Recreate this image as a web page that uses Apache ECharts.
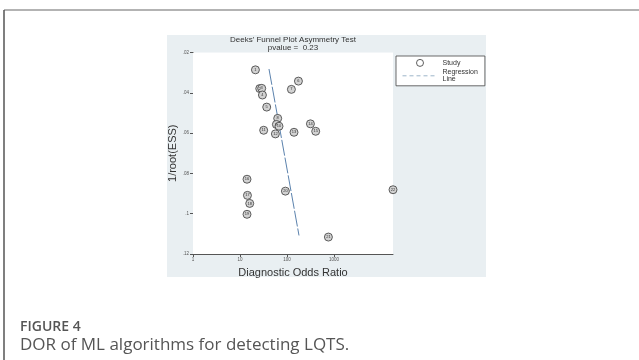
<!DOCTYPE html>
<html>
<head>
<meta charset="utf-8">
<script src="https://cdn.jsdelivr.net/npm/echarts@6/dist/echarts.min.js"></script>
<style>
  html, body { margin: 0; padding: 0; background: #fff; }
  #main { width: 639px; height: 360px; }
</style>
</head>
<body>
<div id="main"></div>
<script>
// study points
const studyIds = [1, 2, 3, 4, 5, 6, 7, 8, 9, 10, 11, 12, 13, 14, 15, 16, 17, 18, 19, 20, 21, 22];
const dorValues = [21.3, 26.3, 29.0, 30.0, 37.0, 175, 124, 63.4, 59.5, 67.6, 31.9, 56.6, 141, 315, 408, 14.1, 14.4, 16.1, 14.1, 92.5, 760, 18000];
const essValues = [0.0286, 0.0379, 0.0378, 0.0411, 0.0471, 0.0342, 0.0383, 0.0527, 0.0557, 0.0566, 0.0586, 0.0604, 0.0596, 0.0554, 0.0591, 0.0829, 0.0909, 0.0949, 0.1003, 0.0888, 0.1116, 0.0881];

// regression line end points
const regDor = [41.4, 180];
const regEss = [0.0282, 0.1108];

const xTicks = [1, 10, 100, 1000];
const pValue = "0.23";

const chart = echarts.init(document.getElementById("main"), null, { renderer: "canvas" });

const fmtY = v => String(+v.toFixed(2)).replace(/^0/, "");

const option = {
  animation: false,
  title: {
    text: "Deeks' Funnel Plot Asymmetry Test",
    subtext: "pvalue =  " + pValue,
    left: 293,
    top: 36,
    textAlign: "center",
    itemGap: 0,
    padding: 0,
    textStyle: { fontFamily: "Liberation Sans", fontSize: 8, fontWeight: "normal", color: "#333" },
    subtextStyle: { fontFamily: "Liberation Sans", fontSize: 8, color: "#333" }
  },
  legend: {
    orient: "vertical",
    left: 396,
    top: 56,
    backgroundColor: "#fff",
    borderColor: "#444",
    borderWidth: 0.8,
    padding: [3, 7, 3, 6],
    itemGap: 2,
    itemWidth: 35,
    itemHeight: 7,
    textStyle: { fontFamily: "Liberation Sans", fontSize: 7, color: "#333", lineHeight: 7 },
    data: [
      { name: "Study", icon: "circle", itemStyle: { color: "#fff", borderColor: "#333", borderWidth: 0.8 } },
      {
        name: "Regression\nLine",
        itemStyle: { opacity: 0 },
        lineStyle: { color: "#9db5c9", width: 1, type: [4, 3] }
      }
    ]
  },
  grid: {
    left: 193,
    right: 246,
    top: 52.5,
    bottom: 106,
    show: true,
    backgroundColor: "#fff",
    borderWidth: 0,
    z: 2
  },
  xAxis: {
    type: "log",
    logBase: 10,
    min: 1,
    max: 18000,
    name: "Diagnostic Odds Ratio",
    nameLocation: "middle",
    nameGap: 13,
    nameTextStyle: { fontFamily: "Liberation Sans", fontSize: 11, color: "#333" },
    axisLine: { onZero: false, lineStyle: { color: "#555", width: 1 } },
    axisTick: { show: true, length: 3, customValues: xTicks, lineStyle: { color: "#555" } },
    axisLabel: {
      customValues: xTicks,
      formatter: v => String(Math.round(v)),
      fontSize: 4.5, color: "#555", margin: 3, fontFamily: "Liberation Sans"
    },
    splitLine: { show: false },
    minorTick: { show: false }
  },
  yAxis: {
    type: "value",
    inverse: true,
    min: 0.02,
    max: 0.12,
    interval: 0.02,
    name: "1/root(ESS)",
    nameLocation: "middle",
    nameGap: 15,
    nameTextStyle: { fontFamily: "Liberation Sans", fontSize: 11, color: "#333" },
    axisLine: { show: true, lineStyle: { color: "#555", width: 1 } },
    axisTick: { show: true, length: 3, lineStyle: { color: "#555" } },
    axisLabel: { fontSize: 4.5, color: "#555", margin: 4, formatter: fmtY, fontFamily: "Liberation Sans" },
    splitLine: { show: true, lineStyle: { color: "#e6edf0", width: 1 } }
  },
  series: [
    {
      name: "Study",
      type: "scatter",
      symbol: "circle",
      symbolSize: 8,
      z: 4,
      data: dorValues.map((d, i) => [d, essValues[i], studyIds[i]]),
      itemStyle: { color: "#d2d2d2", borderColor: "#3a3a3a", borderWidth: 0.8, opacity: 1 },
      label: {
        show: true,
        position: "inside",
        formatter: p => p.data[2],
        fontSize: 4,
        color: "#333",
        fontFamily: "Liberation Sans"
      }
    },
    {
      name: "Regression\nLine",
      type: "line",
      symbol: "none",
      z: 3,
      data: regDor.map((d, i) => [d, regEss[i]]),
      lineStyle: { color: "#5b82ad", width: 1, type: [16, 2] }
    }
  ],
  graphic: [
    {
      type: "rect",
      z: -10,
      silent: true,
      shape: { x: 167, y: 35, width: 319, height: 242 },
      style: { fill: "#e9eff2" }
    },
    {
      type: "line",
      z: -5,
      shape: { x1: 4, y1: 10, x2: 639, y2: 10 },
      style: { stroke: "#b3b3b3", lineWidth: 2 }
    },
    {
      type: "line",
      z: -5,
      shape: { x1: 4, y1: 10, x2: 4, y2: 360 },
      style: { stroke: "#555", lineWidth: 1.5 }
    },
    {
      type: "text",
      left: 20,
      top: 320,
      style: { text: "FIGURE 4", fontFamily: "Open Sans", fontSize: 14, fontWeight: 600, fill: "#555" }
    },
    {
      type: "text",
      left: 20,
      top: 337,
      style: { text: "DOR of ML algorithms for detecting LQTS.", fontFamily: "Open Sans", fontSize: 17, fill: "#555" }
    }
  ]
};

chart.setOption(option);
</script>
</body>
</html>
